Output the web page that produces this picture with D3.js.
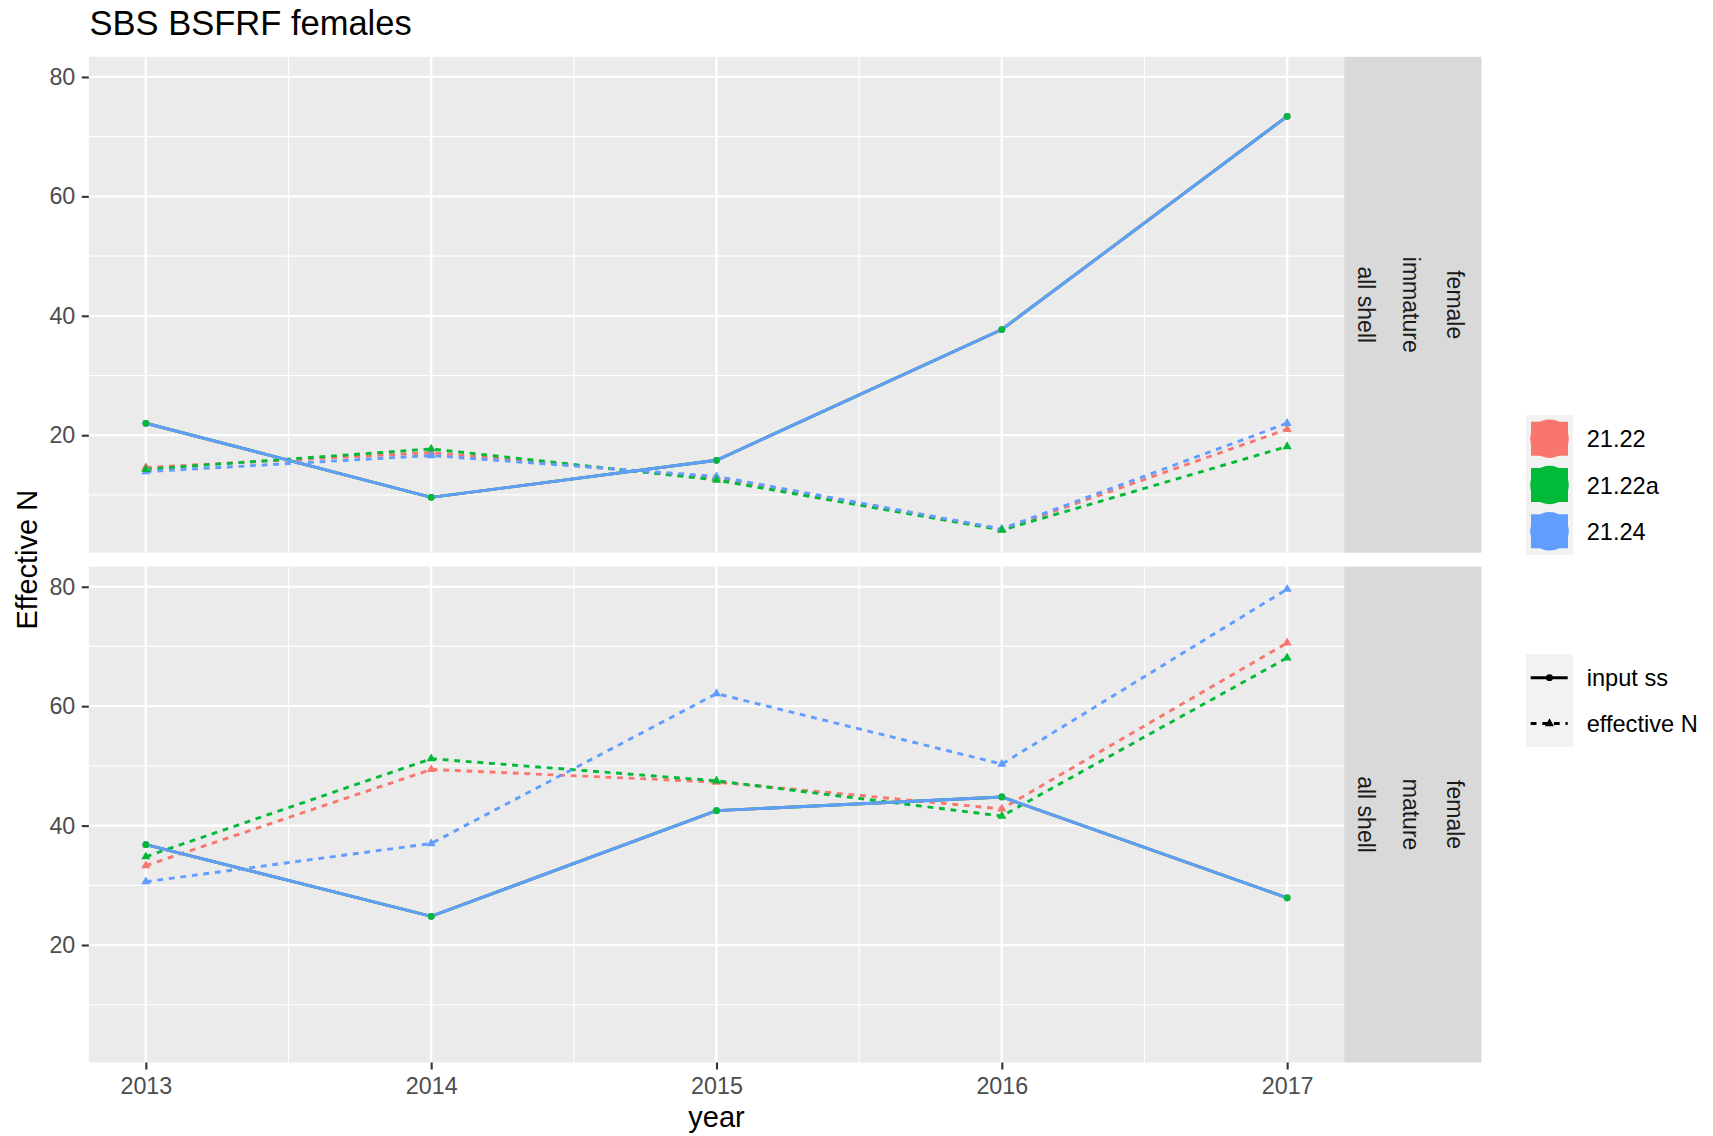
<!DOCTYPE html>
<html>
<head>
<meta charset="utf-8">
<script src="https://cdn.jsdelivr.net/npm/d3@7"></script>
<style>
  html, body { margin: 0; padding: 0; background: #fff; }
  svg { display: block; font-family: "Liberation Sans", Arial, Helvetica, sans-serif; }
</style>
</head>
<body>
<svg id="chart" width="1713" height="1136"></svg>
<script>
// ---------------- data ----------------
const years = [2013, 2014, 2015, 2016, 2017];
const models = ["21.22", "21.22a", "21.24"];
const modelColors = ["#F8766D", "#00BA38", "#619CFF"];
const panelLabels = [["female", "immature", "all shell"], ["female", "mature", "all shell"]];
const typeLabels = ["input ss", "effective N"];
const yTicks = [20, 40, 60, 80];
const yMinor = [10, 30, 50, 70];

// immature panel
const immInputSS = [22.0, 9.6, 15.8, 37.7, 73.4];
const immEffN_2122 = [14.6, 17.1, 12.8, 4.2, 21.0];
const immEffN_2122a = [14.3, 17.7, 12.5, 4.1, 18.1];
const immEffN_2124 = [13.9, 16.6, 13.1, 4.3, 22.0];
// mature panel
const matInputSS = [36.8, 24.8, 42.5, 44.8, 27.9];
const matEffN_2122 = [33.3, 49.4, 47.3, 42.8, 70.6];
const matEffN_2122a = [34.8, 51.2, 47.5, 41.6, 68.1];
const matEffN_2124 = [30.6, 37.0, 62.1, 50.3, 79.6];

const panelsData = [
  { input: [immInputSS, immInputSS, immInputSS], eff: [immEffN_2122, immEffN_2122a, immEffN_2124] },
  { input: [matInputSS, matInputSS, matInputSS], eff: [matEffN_2122, matEffN_2122a, matEffN_2124] }
];

// ---------------- layout ----------------
const svg = d3.select("#chart");
const font = '"Liberation Sans", Arial, Helvetica, sans-serif';
const L = 88.8, R = 1344.2;
const stripR = 1481.5;
const panels = [{ top: 56.8, bottom: 552.7 }, { top: 566.6, bottom: 1062.5 }];

const x = d3.scaleLinear().domain([2012.8, 2017.2]).range([L, R]);

const allVals = [];
panelsData.forEach(p => { p.input.forEach(a => allVals.push(...a)); p.eff.forEach(a => allVals.push(...a)); });
const vmin = d3.min(allVals), vmax = d3.max(allVals);
const pad = 0.05 * (vmax - vmin);
const yDomain = [vmin - pad, vmax + pad];

// title
svg.append("text").attr("x", 89.6).attr("y", 35).attr("font-size", 34.5).attr("fill", "#000")
  .text("SBS BSFRF females");

const xMinor = [2013.5, 2014.5, 2015.5, 2016.5];

panels.forEach((pn, pi) => {
  const y = d3.scaleLinear().domain(yDomain).range([pn.bottom, pn.top]);
  const g = svg.append("g");
  g.append("rect").attr("x", L).attr("y", pn.top).attr("width", R - L).attr("height", pn.bottom - pn.top).attr("fill", "#EBEBEB");
  // minor grid
  yMinor.forEach(v => {
    g.append("line").attr("x1", L).attr("x2", R).attr("y1", y(v)).attr("y2", y(v)).attr("stroke", "#fff").attr("stroke-width", 1.2);
  });
  xMinor.forEach(v => {
    g.append("line").attr("y1", pn.top).attr("y2", pn.bottom).attr("x1", x(v)).attr("x2", x(v)).attr("stroke", "#fff").attr("stroke-width", 1.2);
  });
  yTicks.forEach(v => {
    g.append("line").attr("x1", L).attr("x2", R).attr("y1", y(v)).attr("y2", y(v)).attr("stroke", "#fff").attr("stroke-width", 2.3);
  });
  years.forEach(v => {
    g.append("line").attr("y1", pn.top).attr("y2", pn.bottom).attr("x1", x(v)).attr("x2", x(v)).attr("stroke", "#fff").attr("stroke-width", 2.3);
  });

  // strip
  svg.append("rect").attr("x", R).attr("y", pn.top).attr("width", stripR - R).attr("height", pn.bottom - pn.top).attr("fill", "#D9D9D9");
  const cy = (pn.top + pn.bottom) / 2;
  const stripX = [1455, 1410.5, 1366];
  panelLabels[pi].forEach((t, i) => {
    svg.append("text").attr("transform", `translate(${stripX[i]},${cy}) rotate(90)`)
      .attr("text-anchor", "middle").attr("dominant-baseline", "central")
      .attr("font-size", 23).attr("fill", "#1A1A1A").text(t);
  });

  // y axis
  const ya = svg.append("g").attr("transform", `translate(${L},0)`)
    .call(d3.axisLeft(y).tickValues(yTicks).tickSize(7).tickPadding(6.5));
  ya.select(".domain").remove();
  ya.selectAll(".tick line").attr("stroke", "#333333").attr("stroke-width", 2.1);
  ya.selectAll(".tick text").attr("fill", "#4D4D4D").attr("font-size", 23.3).attr("font-family", font);

  // lines
  const line = d3.line().x((d, i) => x(years[i])).y(d => y(d));
  const plot = svg.append("g");
  models.forEach((m, mi) => {
    plot.append("path").datum(panelsData[pi].input[mi]).attr("d", line)
      .attr("fill", "none").attr("stroke", modelColors[mi]).attr("stroke-width", 2.9);
    plot.append("path").datum(panelsData[pi].eff[mi]).attr("d", line)
      .attr("fill", "none").attr("stroke", modelColors[mi]).attr("stroke-width", 2.9)
      .attr("stroke-dasharray", "5.8,5.8");
  });
  // points (order: red, blue, green)
  const tri = d3.symbol().type(d3.symbolTriangle).size(36);
  [0, 2, 1].forEach(mi => {
    panelsData[pi].input[mi].forEach((v, i) => {
      plot.append("circle").attr("cx", x(years[i])).attr("cy", y(v)).attr("r", 3.4).attr("fill", modelColors[mi]);
    });
    panelsData[pi].eff[mi].forEach((v, i) => {
      plot.append("path").attr("d", tri).attr("transform", `translate(${x(years[i])},${y(v)})`).attr("fill", modelColors[mi]);
    });
  });

  if (pi === 1) {
    const xa = svg.append("g").attr("transform", `translate(0,${pn.bottom})`)
      .call(d3.axisBottom(x).tickValues(years).tickFormat(d3.format("d")).tickSize(7).tickPadding(7.5));
    xa.select(".domain").remove();
    xa.selectAll(".tick line").attr("stroke", "#333333").attr("stroke-width", 2.1);
    xa.selectAll(".tick text").attr("fill", "#4D4D4D").attr("font-size", 23.3).attr("font-family", font);
  }
});

// axis titles
svg.append("text").attr("x", (L + R) / 2).attr("y", 1126.5).attr("text-anchor", "middle")
  .attr("font-size", 29).attr("fill", "#000").text("year");
svg.append("text").attr("transform", `translate(37,${(panels[0].top + panels[1].bottom) / 2}) rotate(-90)`)
  .attr("text-anchor", "middle").attr("font-size", 29).attr("fill", "#000").text("Effective N");

// legend 1: colours
const lg1 = svg.append("g");
const keyX = 1526, keyW = 47;
const key1Y = [438.7, 485, 531.3];
lg1.append("rect").attr("x", keyX).attr("y", 415).attr("width", keyW).attr("height", 140).attr("fill", "#F2F2F2");
models.forEach((m, i) => {
  const cx = keyX + keyW / 2, cy = key1Y[i];
  lg1.append("rect").attr("x", cx - 18.5).attr("y", cy - 17).attr("width", 37).attr("height", 34).attr("fill", modelColors[i]);
  lg1.append("circle").attr("cx", cx).attr("cy", cy).attr("r", 19.3).attr("fill", modelColors[i]);
  lg1.append("text").attr("x", 1586.7).attr("y", cy + 8.5).attr("font-size", 23.6).attr("fill", "#000").text(m);
});

// legend 2: linetype
const lg2 = svg.append("g");
const key2Y = [677.7, 723.5];
lg2.append("rect").attr("x", keyX).attr("y", 654).attr("width", keyW).attr("height", 93).attr("fill", "#F2F2F2");
typeLabels.forEach((t, i) => {
  const cy = key2Y[i], cx = keyX + keyW / 2;
  lg2.append("line").attr("x1", 1530.7).attr("x2", 1567.7).attr("y1", cy).attr("y2", cy)
    .attr("stroke", "#000").attr("stroke-width", 2.9).attr("stroke-dasharray", i === 1 ? "5.8,5.8" : null);
  if (i === 0) lg2.append("circle").attr("cx", cx).attr("cy", cy).attr("r", 3.4).attr("fill", "#000");
  else lg2.append("path").attr("d", d3.symbol().type(d3.symbolTriangle).size(36)).attr("transform", `translate(${cx},${cy})`).attr("fill", "#000");
  lg2.append("text").attr("x", 1586.7).attr("y", cy + 8.5).attr("font-size", 23.6).attr("fill", "#000").text(t);
});
</script>
</body>
</html>
